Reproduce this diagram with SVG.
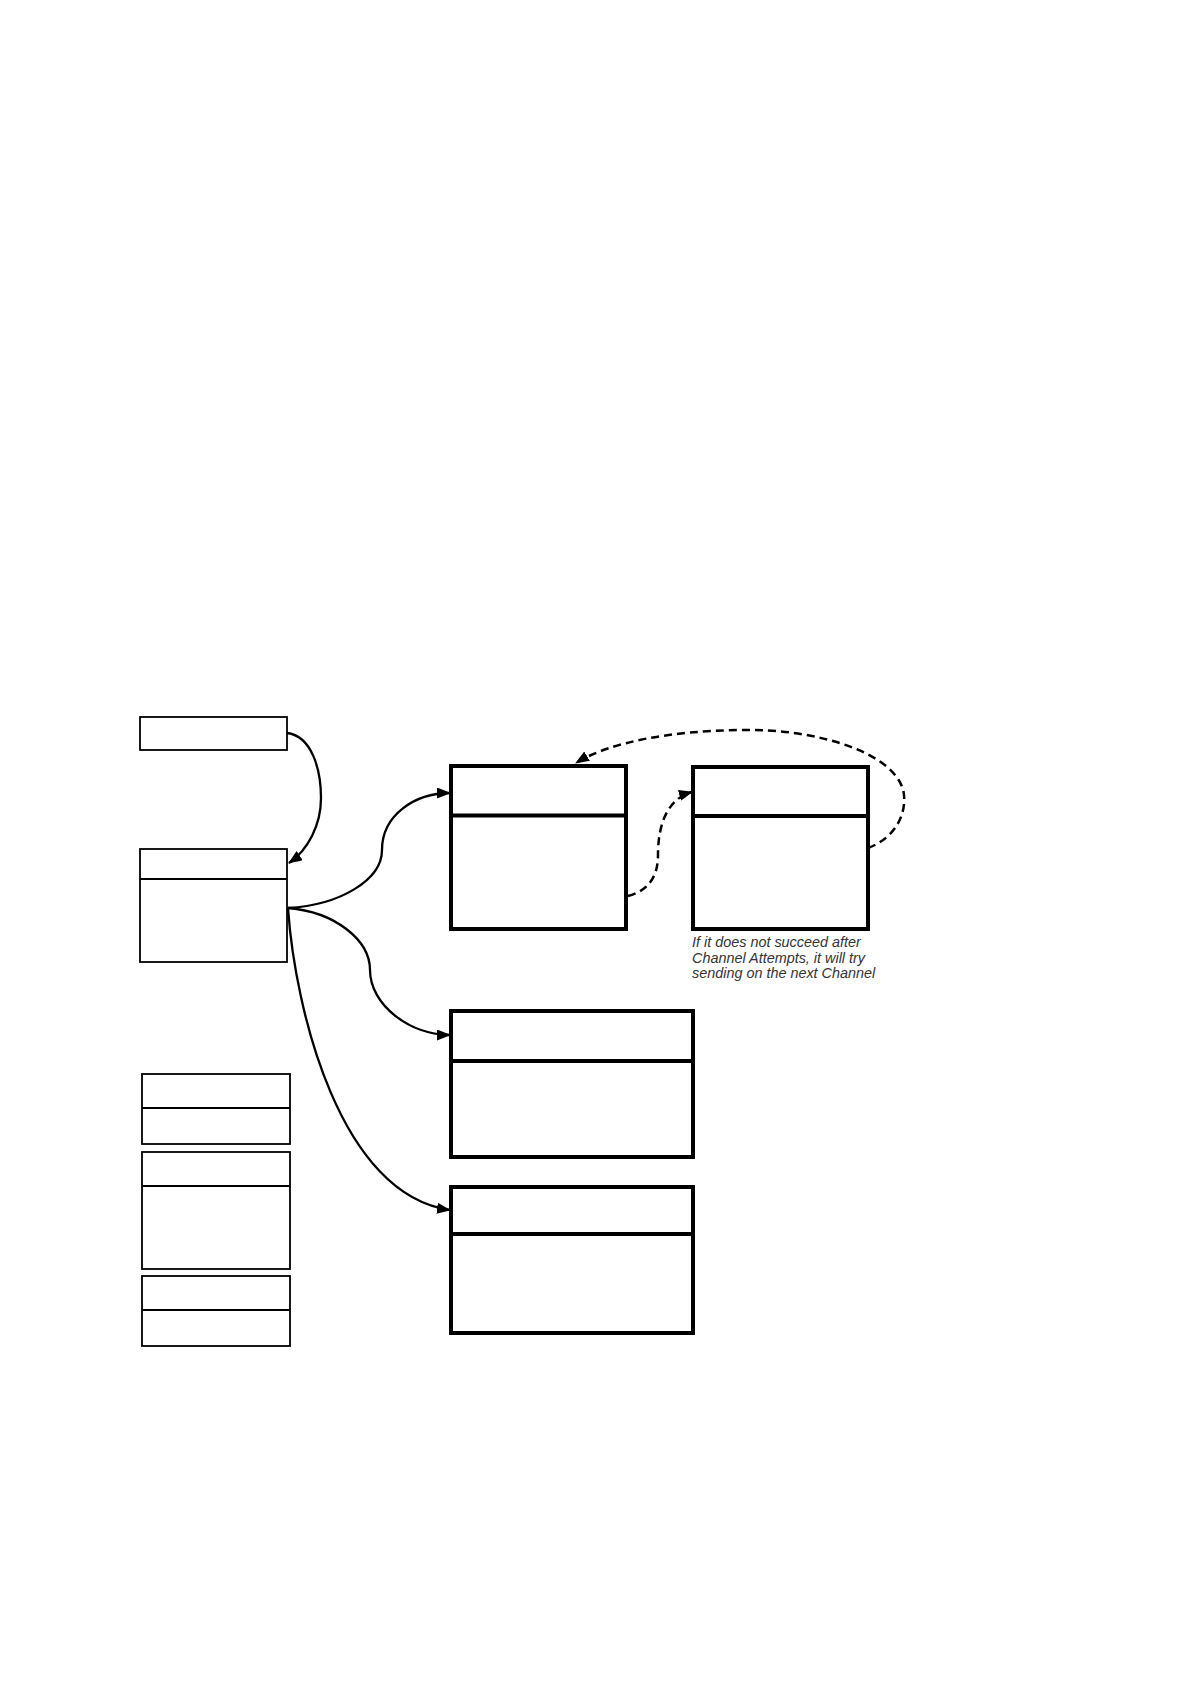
<svg xmlns="http://www.w3.org/2000/svg" width="1191" height="1683" viewBox="0 0 1191 1683">
<style>
.thin{fill:#fff;stroke:#000;stroke-width:1.8}
.thick{fill:#fff;stroke:#000;stroke-width:4}
.div1{stroke:#000;stroke-width:1.8}
.div2{stroke:#000;stroke-width:4}
.con{fill:none;stroke:#000;stroke-width:2.3}
.dash{fill:none;stroke:#000;stroke-width:2.5;stroke-dasharray:8 5}
.note{font-family:"Liberation Sans",Arial,sans-serif;font-style:italic;font-size:14.4px;fill:#333}
</style>
<defs>
<marker id="ah" markerUnits="userSpaceOnUse" markerWidth="16" markerHeight="14" refX="13" refY="5.5" orient="auto">
<path d="M0,0 L14,5.5 L0,11 Z" fill="#000"/>
</marker>
</defs>
<rect width="1191" height="1683" fill="#fff"/>
<g id="nodeA"><rect class="thin" x="140" y="717" width="147" height="33"/></g>
<g id="nodeB"><rect class="thin" x="140" y="849" width="147" height="113"/><line class="div1" x1="140" y1="879" x2="287" y2="879"/></g>
<g id="nodeC"><rect class="thick" x="451" y="766" width="175" height="163"/><line class="div2" x1="451" y1="815.5" x2="626" y2="815.5"/></g>
<g id="nodeD"><rect class="thick" x="693" y="767" width="175" height="162"/><line class="div2" x1="693" y1="816" x2="868" y2="816"/></g>
<g id="nodeE"><rect class="thick" x="451" y="1011" width="242" height="146"/><line class="div2" x1="451" y1="1061" x2="693" y2="1061"/></g>
<g id="nodeF"><rect class="thick" x="451" y="1187" width="242" height="146"/><line class="div2" x1="451" y1="1234" x2="693" y2="1234"/></g>
<g id="legend1"><rect class="thin" x="142" y="1074" width="148" height="70"/><line class="div1" x1="142" y1="1108" x2="290" y2="1108"/></g>
<g id="legend2"><rect class="thin" x="142" y="1152" width="148" height="117"/><line class="div1" x1="142" y1="1186" x2="290" y2="1186"/></g>
<g id="legend3"><rect class="thin" x="142" y="1276" width="148" height="70"/><line class="div1" x1="142" y1="1310" x2="290" y2="1310"/></g>
<g id="connectors">
<path class="con" d="M287,733 C312,736 321,770 321,798 C321,825 308,850 289,863" marker-end="url(#ah)"/>
<path class="con" d="M288,908 C340,905 382,880 382,850 C382,815 415,793 450,793" marker-end="url(#ah)"/>
<path class="con" d="M288,908 C335,912 370,940 370,970 C370,1005 410,1035 450,1035" marker-end="url(#ah)"/>
<path class="con" d="M288,908 C295,1010 340,1195 450,1210" marker-end="url(#ah)"/>
<path class="dash" d="M628,896 C650,890 658,875 658,855 C658,820 670,798 692,792" marker-end="url(#ah)"/>
<path class="dash" d="M868,848 C895,838 906,815 904,795 C900,755 820,728 740,730 C670,731 610,742 576,763" marker-end="url(#ah)"/>
</g>
<g id="note">
<text class="note" x="692" y="947">If it does not succeed after</text>
<text class="note" x="692" y="962.5">Channel Attempts, it will try</text>
<text class="note" x="692" y="978">sending on the next Channel</text>
</g>
</svg>
